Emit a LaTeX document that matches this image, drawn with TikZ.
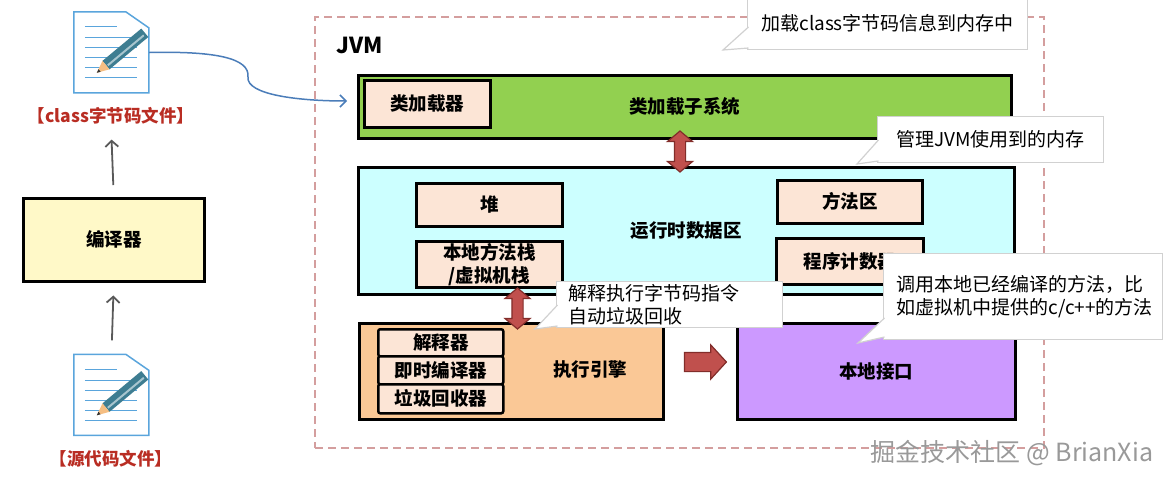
\documentclass[tikz,border=0pt]{standalone}
\usepackage{fontspec}
\setmainfont{Noto Sans CJK SC}
\usepackage{xcolor}
\usepackage{tikz}
\usetikzlibrary{arrows.meta, shapes.arrows, calc}

\definecolor{loadgreen}{RGB}{146,208,80}
\definecolor{areacyan}{RGB}{204,255,255}
\definecolor{partpeach}{RGB}{252,229,214}
\definecolor{engorange}{RGB}{250,200,150}
\definecolor{nativepurple}{RGB}{204,153,255}
\definecolor{compyellow}{RGB}{255,249,200}
\definecolor{arrowred}{RGB}{192,80,77}
\definecolor{arrowdark}{RGB}{130,45,42}
\definecolor{framered}{RGB}{212,158,158}
\definecolor{labelred}{RGB}{185,45,35}
\definecolor{iconblue}{RGB}{90,165,220}
\definecolor{pencilteal}{RGB}{62,125,145}
\definecolor{pencilorange}{RGB}{245,190,130}
\definecolor{curveblue}{RGB}{75,125,185}

\tikzset{
  box/.style={draw=black, line width=2.5pt, inner sep=0pt, anchor=north west,
    font=\fontsize{18.5}{23}\selectfont\bfseries},
  part/.style={box, fill=partpeach},
  callout/.style={draw=black!18, line width=1.2pt, fill=white},
  calltext/.style={font=\fontsize{19}{23}\selectfont, align=left},
  blockarrow/.style={fill=arrowred, draw=arrowdark, line width=1.2pt},
  uparrow/.style={draw=black!65, line width=1.8pt, -{Straight Barb[length=6pt, width=13pt]}},
  iconbox/.style={inner sep=0pt, minimum width=75pt, minimum height=81pt},
  filelabel/.style={text=labelred, font=\fontsize{17.5}{19}\selectfont\bfseries, inner sep=0pt},
  docicon/.pic={
    \draw[iconblue, line width=1.5pt, fill=white] (0,0) -- (52,0) -- (75,16) -- (75,81) -- (0,81) -- cycle;
    \draw[iconblue, line width=1.2pt] (11,15) -- (43,15);
    \foreach \yy in {26,36,46,56,66}
      \draw[iconblue, line width=1.2pt] (11,\yy) -- (63,\yy);
    \draw[line width=11pt, pencilteal] (32.2,53.3) -- (71,21);
    \draw[line width=2pt, pencilteal!45!white] (34,53.5) -- (70,23.5);
    \fill[pencilorange] (23,61) -- (35.7,57.5) -- (28.7,49.1) -- cycle;
    \fill[black!80] (23,61) -- (26.8,60) -- (24.7,57.4) -- cycle;
  }
}

\begin{document}
\begin{tikzpicture}[x=1pt, y=-1pt]
  \useasboundingbox (0,0) rectangle (1171,482);

  % left column: files and compiler
  \node[iconbox] (classicon) at (111.5,52.5) {};
  \pic at (classicon.north west) {docicon};
  \node[filelabel] (classlabel) at (111,116) {【class字节码文件】};
  \node[box, fill=compyellow, minimum width=181pt, minimum height=83pt] (compiler) at (22,197) {编译器};
  \node[iconbox] (srcicon) at (111.5,395) {};
  \pic at (srcicon.north west) {docicon};
  \node[filelabel] (srclabel) at (111,459) {【源代码文件】};

  \draw[uparrow, shorten <=12pt, shorten >=15pt] (compiler.north) -- (classlabel.south);
  \draw[uparrow, shorten <=14pt, shorten >=13pt] (srcicon.north) -- (compiler.south);

  % JVM frame
  \node[draw=framered, line width=2pt, dash pattern=on 8pt off 5pt, inner sep=0pt,
    minimum width=729pt, minimum height=431pt, anchor=north west] (jvm) at (314,16) {};
  \node[font=\fontsize{22}{24}\selectfont\bfseries, anchor=west] (jvmtitle) at (333,45) {JVM};

  % class loader subsystem
  \node[box, fill=loadgreen, minimum width=653pt, minimum height=63pt] (loadsys) at (357,74) {类加载子系统};
  \node[part, minimum width=126pt, minimum height=47pt] (loader) at (363,79) {类加载器};
  \coordinate (loadin) at (347,101);
  \draw[curveblue, line width=1.5pt, -{Straight Barb[length=6pt, width=12pt]}]
    (classicon.east) .. controls (215,51) and (250,58) .. (248,77)
    .. controls (246,95) and (300,101) .. (loadin);

  % runtime data area
  \node[box, fill=areacyan, minimum width=656pt, minimum height=127pt] (runtime) at (357,166) {运行时数据区};
  \node[part, minimum width=146pt, minimum height=43pt] (heap) at (415,182) {堆};
  \node[part, minimum width=146pt, minimum height=46pt, align=center] (stack) at (415,240) {本地方法栈\\/虚拟机栈};
  \node[part, minimum width=145pt, minimum height=43pt] (method) at (776,179) {方法区};
  \node[part, minimum width=147pt, minimum height=46pt] (pc) at (775,237) {程序计数器};

  % execution engine and native interface
  \node[box, fill=engorange, minimum width=304pt, minimum height=96pt] (engine) at (358,322) {};
  \node[font=\fontsize{18.5}{23}\selectfont\bfseries] (enginelabel) at (590,370) {执行引擎};
  \node[part, rounded corners=2pt, minimum width=125pt, minimum height=27pt] (interp) at (377,328) {解释器};
  \node[part, rounded corners=2pt, minimum width=125pt, minimum height=28pt] (jit) at (377,355) {即时编译器};
  \node[part, rounded corners=2pt, minimum width=125pt, minimum height=29pt] (gc) at (377,383) {垃圾回收器};
  \node[box, fill=nativepurple, minimum width=278pt, minimum height=96pt] (native) at (736,322) {本地接口};

  % block arrows
  \node[blockarrow, double arrow, shape border rotate=90, inner sep=5pt, minimum height=41pt,
    double arrow head extend=7pt, double arrow tip angle=100] (loadlink) at (680,151.5) {};
  \node[blockarrow, double arrow, shape border rotate=90, inner sep=5pt, minimum height=41pt,
    double arrow head extend=7pt, double arrow tip angle=100] (enginelink) at (517.5,308.5) {};
  \node[blockarrow, single arrow, inner xsep=0pt, inner ysep=9pt, minimum height=42pt,
    single arrow head extend=7.5pt, single arrow tip angle=95] (nativelink) at (701,362) {};

  % callouts
  \node[callout, minimum width=280pt, minimum height=52pt, inner sep=0pt, anchor=north west] (noteload) at (747,-3) {};
  \filldraw[callout] (748.5,27) -- (723,50) -- (748.5,48);
  \node[calltext] at (noteload.center) {加载class字节码信息到内存中};

  \node[callout, minimum width=226pt, minimum height=46pt, inner sep=0pt, anchor=north west] (notearea) at (877,116) {};
  \filldraw[callout] (878.5,140) -- (857,164) -- (878.5,161);
  \node[calltext] at (notearea.center) {管理JVM使用到的内存};

  \node[callout, minimum width=226pt, minimum height=46pt, inner sep=0pt, anchor=north west] (noteengine) at (556,281) {};
  \filldraw[callout] (557.5,305) -- (535,329) -- (557.5,326);
  \node[calltext, anchor=west] at ($(noteengine.west)+(9,0)$) {解释执行字节码指令\\自动垃圾回收};

  \node[callout, minimum width=279pt, minimum height=86pt, inner sep=0pt, anchor=north west] (notenative) at (883,253) {};
  \filldraw[callout] (884.5,318) -- (858,343) -- (884.5,337);
  \node[calltext, anchor=west] at ($(notenative.west)+(10,0)$) {调用本地已经编译的方法，比\\如虚拟机中提供的c/c++的方法};

  % watermark
  \node[font=\fontsize{25}{27}\selectfont, text=black!40] (mark) at (1012,453) {掘金技术社区 @ BrianXia};
\end{tikzpicture}
\end{document}
